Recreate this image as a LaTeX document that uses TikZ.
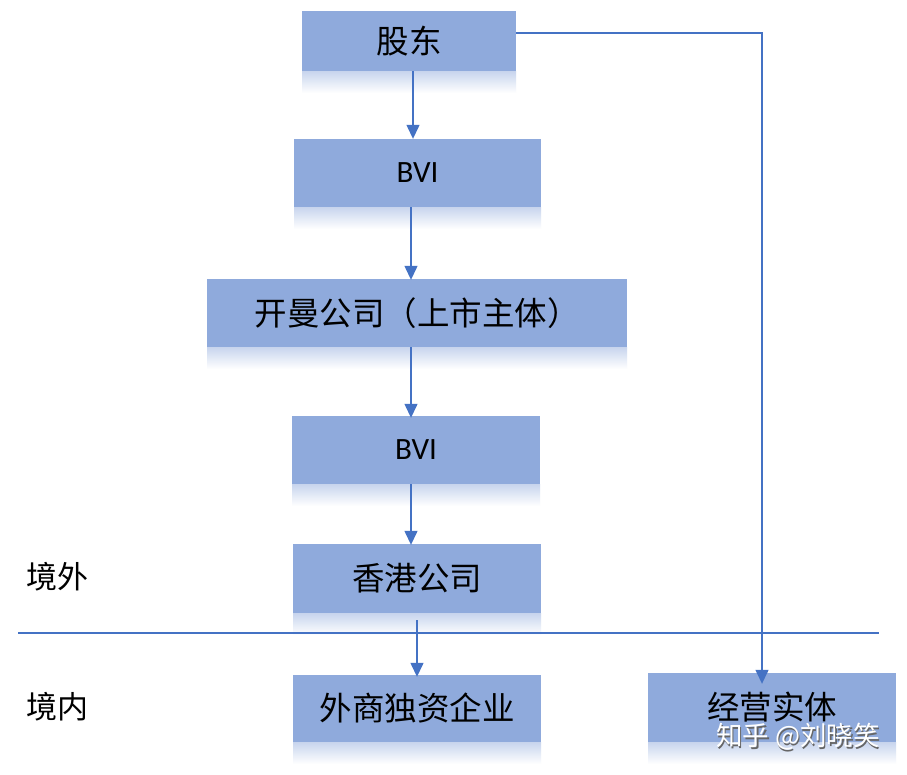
\documentclass[tikz,border=0pt]{standalone}
\usepackage{fontspec}
\setmainfont{Carlito}
\newfontfamily\cjk{Noto Sans CJK SC}
\usetikzlibrary{arrows.meta}
\definecolor{boxc}{HTML}{8FAADC}
\definecolor{linec}{HTML}{4472C4}
\newcommand\reflbox[3]{\shade[top color=boxc!50!white, bottom color=white] (#1,#3) rectangle (#2,#3+22);}
\begin{document}
\begin{tikzpicture}[x=1pt,y=-1pt,
  box/.style={fill=boxc, draw=none, inner sep=0pt, text=black, font=\fontsize{32.5}{38}\selectfont\cjk},
  bvibox/.style={box, font=\fontsize{31}{36}\selectfont},
  conn/.style={linec, line width=1.3pt, -{Triangle[width=13pt,length=14pt]}},
  sep/.style={linec, line width=1.2pt},
  lbl/.style={anchor=west, inner sep=0pt, font=\fontsize{31}{36}\selectfont\cjk},
  wm/.style={inner sep=0pt, font=\fontsize{26.5}{30}\selectfont\cjk}]
\useasboundingbox (0,0) rectangle (907,774);
\fill[white] (0,0) rectangle (907,774);
% reflections
\reflbox{302}{516}{71}
\reflbox{294}{541}{207}
\reflbox{207}{627}{347}
\reflbox{292}{540}{484}
\reflbox{293}{541}{613}
\reflbox{293}{541}{742}
\reflbox{648}{896}{742}
% boxes
\node[box, minimum width=214pt, minimum height=60pt] (sh) at (409,41) {股东};
\node[bvibox, minimum width=247pt, minimum height=68pt] (bvi1) at (417.5,173) {BVI};
\node[box, minimum width=420pt, minimum height=68pt] (km) at (417,313) {开曼公司（上市主体）};
\node[bvibox, minimum width=248pt, minimum height=68pt] (bvi2) at (416,450) {BVI};
\node[box, minimum width=248pt, minimum height=69pt] (hk) at (417,578.5) {香港公司};
\node[box, minimum width=248pt, minimum height=67pt] (wfoe) at (417,708.5) {外商独资企业};
\node[box, minimum width=248pt, minimum height=69pt] (op) at (772,707.5) {经营实体};
% labels
\node[lbl] (out) at (26,577) {境外};
\node[lbl] (in) at (26,707) {境内};
% separator
\coordinate (sepL) at (18,633);
\coordinate (sepR) at (879,633);
\draw[sep] (sepL) -- (sepR);
% connectors
\draw[conn] (sh.south -| 413,0) -- (bvi1.north -| 413,0);
\draw[conn] (bvi1.south -| 411,0) -- ([yshift=-1pt]km.north -| 411,0);
\draw[conn] (km.south -| 411,0) -- ([yshift=-2pt]bvi2.north -| 411,0);
\draw[conn] (bvi2.south -| 411,0) -- ([yshift=-1pt]hk.north -| 411,0);
\draw[conn] ([yshift=-7pt]hk.south -| 417,0) -- ([yshift=-2pt]wfoe.north -| 417,0);
\draw[conn] (sh.east |- 0,33) -- (762,33) -- ([yshift=-11pt]op.north -| 762,0);
% watermark (white text with grey shadow)
\node[wm, text=black!60] (wms) at (799.5,738.5) {知乎 @刘晓笑};
\node[wm, text=white] (wmk) at (798,737) {知乎 @刘晓笑};
\end{tikzpicture}
\end{document}
